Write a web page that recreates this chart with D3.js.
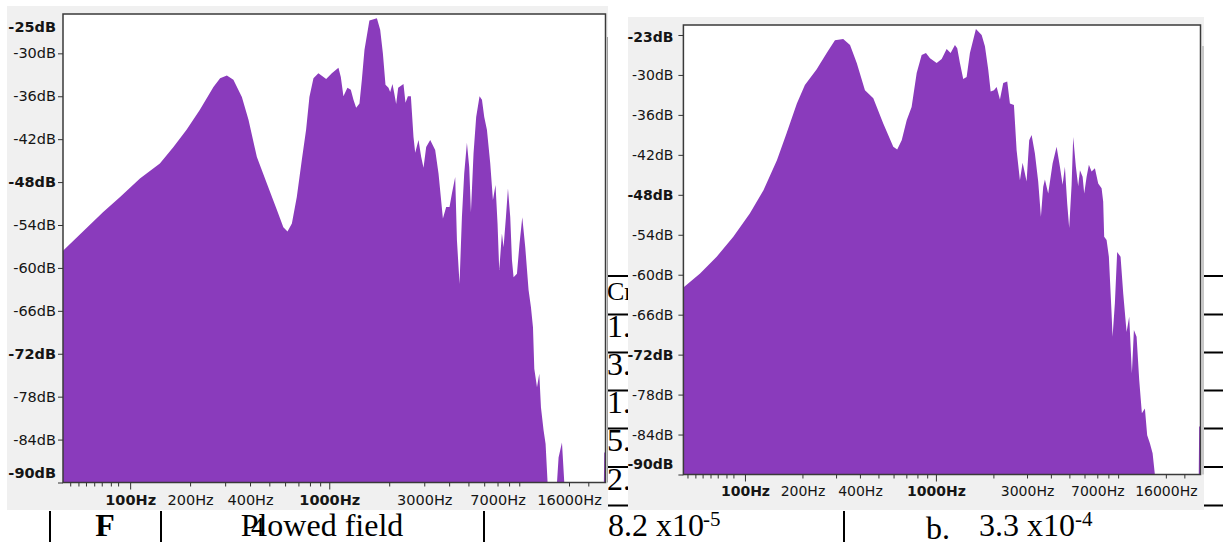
<!DOCTYPE html>
<html lang="en">
<head>
    <meta charset="utf-8">
    <title>Spectrum plots - plowed field</title>
    <script type="text/javascript" src="https://d3js.org/d3.v7.min.js"></script>
    <style type="text/css">
        body { margin: 0; background: #fff; }
        svg { display: block; }
        .doc { font-family: "Liberation Serif", "Times New Roman", serif; fill: #000; }
        .tick text { font-family: "DejaVu Sans", sans-serif; fill: #151515; }
        .tick text.bold { font-weight: bold; }
    </style>
</head>
<body>
<div id="chart"></div>
<script type="text/javascript">

    //Width and height
    var w = 1223;
    var h = 542;

    //Spectrum (a), left plot: frequency (Hz) and level (dB)
    var freqA = [46, 73, 89, 112, 141, 165, 192, 224, 262, 283, 306, 330, 364, 393, 433, 486, 546, 588, 617, 649,
        687, 728, 765, 795, 833, 882, 965, 1030, 1112, 1143, 1178, 1234, 1283, 1323, 1365, 1418, 1458, 1503, 1591, 1735,
        1802, 1859, 1916, 1984, 2023, 2077, 2118, 2168, 2219, 2359, 2415, 2483, 2570, 2649, 2702, 2807, 2896, 2974, 3068, 3214,
        3404, 3538, 3722, 3866, 4017, 4131, 4291, 4377, 4511, 4637, 4762, 4913, 5046, 5147, 5304, 5469, 5686, 5847, 6003, 6192,
        6435, 6638, 6840, 7001, 7139, 7365, 7507, 7714, 7898, 8110, 8271, 8427, 8763, 9030, 9320, 9646, 10023, 10304, 10548, 10709,
        11049, 11344, 11569, 11923, 12204, 12489, 13924, 14182, 14748, 15148, 23950, 24050, 24400];
    var dbA = [-57.6, -52.2, -50.1, -47.5, -45.4, -43.1, -40.7, -37.9, -34.7, -33.5, -33.1, -33.7, -36.1, -39.3, -44.5, -48.2, -51.9, -54.3, -54.9, -53.8,
        -50.1, -44.9, -40.7, -36.1, -33.5, -32.8, -33.6, -32.8, -32.0, -33.3, -36.0, -34.8, -35.1, -36.5, -37.6, -37.0, -33.7, -29.5, -25.4, -25.1,
        -26.7, -30.0, -34.4, -34.8, -35.4, -34.3, -35.5, -37.1, -34.8, -34.3, -36.9, -36.0, -36.0, -41.7, -43.9, -42.1, -44.5, -46.0, -43.1, -42.1,
        -43.5, -46.8, -53.1, -51.5, -51.5, -49.6, -47.3, -56.1, -62.2, -52.9, -46.8, -42.5, -45.9, -52.2, -44.0, -38.9, -36.0, -36.5, -38.9, -40.7,
        -45.4, -50.5, -48.4, -53.8, -60.3, -55.2, -57.1, -52.9, -48.9, -52.9, -58.9, -61.3, -60.8, -56.6, -52.9, -57.1, -63.1, -65.5, -68.3, -74.1,
        -76.7, -74.8, -79.5, -82.7, -84.6, -90, -90, -86.5, -84.4, -90, -90, -85.8, -85.8];

    //Spectrum (b), right plot
    var freqB = [47.6, 58.2, 71.1, 86.9, 106, 125, 147, 165, 187, 206, 237, 268, 296, 327, 355, 385, 425, 470, 530, 598,
        627, 662, 703, 746, 793, 842, 887, 931, 1009, 1072, 1138, 1194, 1258, 1293, 1336, 1390, 1448, 1507, 1620, 1736,
        1806, 1879, 1935, 2013, 2080, 2164, 2252, 2363, 2441, 2562, 2646, 2754, 2845, 2985, 3080, 3171, 3299, 3433, 3547, 3647,
        3722, 3873, 4084, 4286, 4460, 4608, 4737, 4870, 4989, 5136, 5236, 5407, 5560, 5679, 5864, 5979, 6155, 6326, 6535, 6802,
        7078, 7373, 7516, 7606, 7830, 8049, 8316, 8416, 8654, 8896, 9268, 9568, 9967, 10286, 10624, 10886, 11243, 11605, 11985, 12428,
        12776, 13199, 13637, 14018, 23800, 23909, 24300];
    var dbB = [-61.9, -59.8, -57.3, -54.3, -50.8, -47.3, -42.8, -38.8, -34.3, -31.5, -29.2, -26.7, -24.8, -24.6, -25.5, -28.2, -32.3, -33.5, -37.3, -40.8,
        -41.2, -39.8, -36.8, -34.8, -29.7, -27.0, -26.7, -27.5, -28.2, -27.6, -26.1, -26.7, -25.5, -26.0, -28.2, -30.6, -30.3, -26.7, -23.1, -24.0,
        -25.7, -29.2, -32.5, -32.3, -31.8, -33.7, -31.2, -31.0, -34.3, -34.5, -41.3, -45.8, -43.2, -46.0, -39.8, -39.0, -41.8, -46.0, -51.3, -46.8,
        -45.7, -47.8, -43.3, -40.8, -43.8, -46.5, -43.8, -49.3, -53.0, -46.5, -39.3, -43.8, -46.7, -44.3, -45.3, -47.8, -45.3, -43.5, -44.5, -44.0,
        -46.3, -47.0, -49.0, -54.3, -54.8, -57.3, -65.8, -69.3, -64.3, -56.6, -57.3, -62.8, -68.6, -66.3, -74.8, -68.3, -69.3, -75.8, -80.8, -80.1,
        -84.1, -85.3, -86.8, -90, -90, -82.8, -82.8];

    //Frequency ruler
    var xMinorTicks = [50, 55, 60, 66, 72, 80, 87, 200, 300, 400, 500, 600, 700, 800, 900,
        2000, 3000, 4000, 5000, 6000, 7000, 8000, 9000, 16000, 20000];
    var xMajorTicks = [100, 1000];
    var xLabelValues = [100, 200, 400, 1000, 3000, 7000, 16000];
    var xLabels = ["100Hz", "200Hz", "400Hz", "1000Hz", "3000Hz", "7000Hz", "16000Hz"];

    //dB rulers
    var yTicksA = [-25, -30, -36, -42, -48, -54, -60, -66, -72, -78, -84, -90];
    var yLabelsA = ["-25dB", "-30dB", "-36dB", "-42dB", "-48dB", "-54dB", "-60dB", "-66dB", "-72dB", "-78dB", "-84dB", "-90dB"];
    var yTicksB = [-24, -30, -36, -42, -48, -54, -60, -66, -72, -78, -84, -90];
    var yLabelsB = ["-23dB", "-30dB", "-36dB", "-42dB", "-48dB", "-54dB", "-60dB", "-66dB", "-72dB", "-78dB", "-84dB", "-90dB"];
    var boldDb = [-48, -72, -90];

    //Document table text showing around the plots
    var cellNumbers = ["Cr", "1.", "3.", "1.", "5.", "2."];

    var svg = d3.select("#chart")
        .append("svg")
        .attr("width", w)
        .attr("height", h);

    //Table rules behind the plots
    var rowLines = [276, 314.5, 352.5, 390.5, 428.5, 467, 505.5];
    svg.selectAll("line.row")
        .data(rowLines)
        .enter()
        .append("line")
        .attr("class", "row")
        .attr("x1", 607).attr("x2", w)
        .attr("y1", function (d) { return d; })
        .attr("y2", function (d) { return d; })
        .attr("stroke", "#000")
        .attr("stroke-width", 2);

    svg.selectAll("text.cell")
        .data(cellNumbers)
        .enter()
        .append("text")
        .attr("class", "doc cell")
        .attr("x", 607)
        .attr("y", function (d, i) { return i === 0 ? 300 : rowLines[i] + 22.5; })
        .style("font-size", function (d, i) { return i === 0 ? "26px" : "32px"; })
        .text(function (d) { return d; });

    //Draws one spectrum window
    function drawPanel(p, freq, db, yTicks, yLabels) {
        var g = svg.append("g");

        g.append("rect")
            .attr("x", p.bx).attr("y", p.by)
            .attr("width", p.bw).attr("height", p.bh)
            .attr("fill", "#f0f0f0");

        g.append("line")
            .attr("x1", p.edgeX).attr("x2", p.edgeX)
            .attr("y1", p.edgeTop).attr("y2", p.bottom)
            .attr("stroke", "#a0a0a0").attr("stroke-width", 1);

        g.append("rect")
            .attr("x", p.left).attr("y", p.top)
            .attr("width", p.right - p.left).attr("height", p.bottom - p.top)
            .attr("fill", "#fff");

        var x = d3.scaleLog().domain(p.fDomain).range([p.left, p.right]);
        var y = d3.scaleLinear().domain([-90, p.dbTop]).range([p.bottom, p.top]);

        var data = freq.map(function (f, i) { return { f: f, db: db[i] }; });

        var area = d3.area()
            .x(function (d) { return x(d.f); })
            .y0(y(-90))
            .y1(function (d) { return y(Math.max(-90, d.db)); });

        g.append("path")
            .datum(data)
            .attr("d", area)
            .attr("fill", "#8a3bbc");

        //frame
        g.append("rect")
            .attr("x", p.left).attr("y", p.top)
            .attr("width", p.right - p.left).attr("height", p.bottom - p.top)
            .attr("fill", "none")
            .attr("stroke", "#3a3a3a")
            .attr("stroke-width", 1.5);

        //dB ruler
        var yAxis = g.append("g")
            .attr("transform", "translate(" + p.left + ",0)")
            .call(d3.axisLeft(y)
                .tickValues(yTicks)
                .tickSize(5)
                .tickPadding(p.yPad)
                .tickFormat(function (d, i) { return yLabels[i]; }));
        yAxis.select(".domain").remove();
        yAxis.selectAll(".tick line").attr("stroke", "#333");
        yAxis.selectAll(".tick text")
            .style("font-size", p.fs + "px")
            .classed("bold", function (d, i) { return i === 0 || boldDb.indexOf(d) >= 0; })
            .attr("y", function (d, i) {
                if (i === 0) return p.topShift;
                if (i === yTicks.length - 1) return -10;
                return 0;
            });
        if (p.hideTopTick) {
            yAxis.select(".tick line").remove();
        }

        //frequency ruler
        var allTicks = xMinorTicks.concat(xMajorTicks).sort(function (a, b) { return a - b; });
        var xAxis = g.append("g")
            .attr("transform", "translate(0," + p.bottom + ")")
            .call(d3.axisBottom(x)
                .tickValues(allTicks)
                .tickSize(4)
                .tickPadding(8)
                .tickFormat(function (d) {
                    var k = xLabelValues.indexOf(d);
                    return k >= 0 ? xLabels[k] : "";
                }));
        xAxis.select(".domain").remove();
        xAxis.selectAll(".tick line")
            .attr("stroke", "#333")
            .attr("y2", function (d) { return xMajorTicks.indexOf(d) >= 0 ? 7 : 4; });
        xAxis.selectAll(".tick text")
            .style("font-size", p.fs + "px")
            .classed("bold", function (d) { return xMajorTicks.indexOf(d) >= 0; });
    }

    drawPanel({
        bx: 7, by: 6, bw: 601, bh: 504,
        left: 63, right: 605.5, top: 14, bottom: 482.5,
        edgeX: 607.5, edgeTop: 37,
        fDomain: [46, 24400], dbTop: -24.5,
        fs: 14.5, yPad: 2, topShift: 9.4, hideTopTick: true
    }, freqA, dbA, yTicksA, yLabelsA);

    drawPanel({
        bx: 628, by: 17, bw: 576, bh: 493,
        left: 683.4, right: 1200.5, top: 25, bottom: 474.5,
        edgeX: 1203, edgeTop: 46,
        fDomain: [47.6, 24300], dbTop: -22.5,
        fs: 14, yPad: 5, topShift: 2.4, hideTopTick: false
    }, freqB, dbB, yTicksB, yLabelsB);

    //Bottom table row
    var colLines = [50, 161, 484, 844];
    svg.selectAll("line.col")
        .data(colLines)
        .enter()
        .append("line")
        .attr("class", "col")
        .attr("x1", function (d) { return d; })
        .attr("x2", function (d) { return d; })
        .attr("y1", 511).attr("y2", h)
        .attr("stroke", "#000")
        .attr("stroke-width", 2);

    svg.append("text").attr("class", "doc").attr("x", 105).attr("y", 536)
        .attr("text-anchor", "middle").style("font-size", "32px").style("font-weight", "bold").text("F");
    svg.append("text").attr("class", "doc").attr("x", 322).attr("y", 536)
        .attr("text-anchor", "middle").style("font-size", "32px").text("Plowed field");
    svg.append("text").attr("class", "doc").attr("x", 251).attr("y", 536)
        .style("font-size", "27px").text("4");
    svg.append("text").attr("class", "doc").attr("x", 608).attr("y", 536)
        .style("font-size", "32px").text("8.2 x10");
    svg.append("text").attr("class", "doc").attr("x", 703).attr("y", 526)
        .style("font-size", "21px").text("-5");
    svg.append("text").attr("class", "doc").attr("x", 926).attr("y", 539)
        .style("font-size", "32px").text("b.");
    svg.append("text").attr("class", "doc").attr("x", 979).attr("y", 536)
        .style("font-size", "32px").text("3.3 x10");
    svg.append("text").attr("class", "doc").attr("x", 1075).attr("y", 526)
        .style("font-size", "21px").text("-4");

</script>
</body>
</html>
